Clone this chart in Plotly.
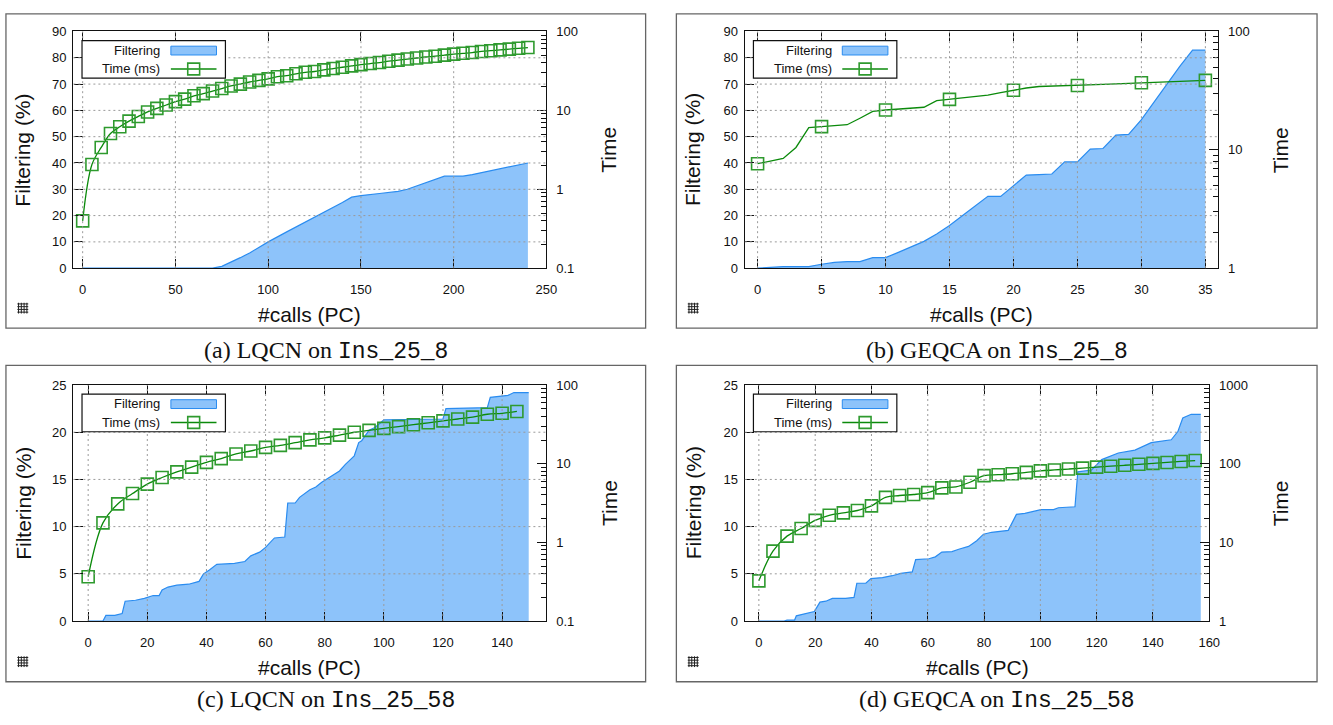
import plotly.graph_objects as go

W, H = 1333, 725

# ---------------- data ----------------
# (a) LQCN on Ins_25_8
a_calls_f = [0, 70, 75, 80, 85, 90, 95, 100, 110, 120, 130, 135, 140, 145, 150, 160, 170, 175,
             180, 185, 190, 195, 200, 205, 210, 220, 230, 240]
a_filter = [0, 0, 0.7, 2.2, 4.0, 5.8, 7.9, 10.0, 13.8, 17.5, 21.0, 23.0, 25.0, 27.0, 27.6, 28.4, 29.2, 30.0,
            31.3, 32.5, 33.8, 35.0, 35.0, 35.0, 35.6, 37.0, 38.5, 40.0]
a_calls_t = [0, 5, 10, 15, 20, 25, 30, 35, 40, 45, 50, 55, 60, 65, 70, 75, 80, 85, 90, 95, 100,
             105, 110, 115, 120, 125, 130, 135, 140, 145, 150, 155, 160, 165, 170, 175, 180, 185,
             190, 195, 200, 205, 210, 215, 220, 225, 230, 235, 240]
a_time = [0.398, 2.06, 3.39, 5.09, 6.21, 7.30, 8.38, 9.55, 10.6, 11.7, 12.9, 13.9, 15.3, 16.3, 17.6,
          18.9, 20.4, 21.5, 22.9, 24.0, 25.1, 26.7, 27.5, 29.1, 30.4, 31.1, 32.6, 33.9, 35.2, 36.6,
          38.0, 39.2, 40.4, 42.0, 43.3, 44.7, 46.1, 47.5, 48.6, 50.1, 51.7, 52.9, 54.1, 55.8, 57.1,
          58.4, 59.8, 61.2, 62.6]

# (b) GEQCA on Ins_25_8
b_calls = [0, 1, 2, 3, 4, 5, 6, 7, 8, 9, 10, 11, 12, 13, 14, 15, 16, 17, 18, 19, 20, 21, 22, 23,
           24, 25, 26, 27, 28, 29, 30, 31, 32, 33, 34, 35]
b_filter = [0, 0.3, 0.6, 0.6, 0.6, 1.5, 2.2, 2.5, 2.5, 4.0, 4.0, 6.0, 8.0, 10.2, 13.0, 16.2, 19.9,
            23.6, 27.3, 27.3, 31.3, 35.4, 35.6, 35.8, 40.4, 40.4, 45.3, 45.5, 50.6, 50.9, 56.5,
            63.3, 70.1, 76.7, 82.9, 82.9]
b_time = [7.63, 8.02, 8.45, 10.47, 15.4, 15.7, 16.0, 16.3, 18.5, 21.1, 21.7, 22.2, 22.7, 22.9,
          26.0, 26.7, 27.3, 28.0, 29.0, 30.4, 31.9, 33.3, 34.3, 34.5, 34.7, 35.0, 35.4, 35.7,
          36.1, 36.4, 36.9, 37.2, 37.6, 37.8, 38.2, 38.6]
b_mark_calls = [0, 5, 10, 15, 20, 25, 30, 35]

# (c) LQCN on Ins_25_58
c_calls_f = [0, 5, 6, 9, 11.5, 12.5, 16, 19, 22, 24, 25, 27, 30, 34, 37.5, 39, 41, 43.5, 49.5, 53,
             55, 58, 60, 63, 66.5, 67.5, 70, 71.5, 75, 77, 79, 81, 85, 87, 90, 91.5, 92.5, 95, 97,
             100, 120, 121, 135, 136, 142, 144, 149]
c_filter = [0, 0, 0.6, 0.6, 0.8, 2.1, 2.2, 2.4, 2.7, 2.7, 3.3, 3.6, 3.8, 3.9, 4.2, 5.0, 5.4, 6.0,
            6.1, 6.3, 6.9, 7.3, 7.8, 8.8, 8.9, 12.5, 12.5, 13.1, 13.9, 14.2, 14.7, 15.1, 15.9, 16.6,
            17.5, 18.9, 19.1, 20.2, 20.5, 21.3, 21.4, 22.5, 22.6, 23.7, 23.9, 24.2, 24.2]
c_calls_t = [0, 5, 10, 15, 20, 25, 30, 35, 40, 45, 50, 55, 60, 65, 70, 75, 80, 85, 90, 95, 100,
             105, 110, 115, 120, 125, 130, 135, 140, 145]
c_time = [0.366, 1.77, 3.08, 4.17, 5.50, 6.67, 7.87, 9.04, 10.4, 11.6, 13.3, 14.5, 16.1, 17.1, 18.5,
          20.1, 21.3, 23.1, 25.1, 26.5, 28.1, 29.6, 31.3, 33.1, 35.0, 37.0, 39.1, 42.5, 43.7, 46.1]

# (d) GEQCA on Ins_25_58
d_calls_f = [0, 9, 10, 12.7, 13.3, 15.6, 17.9, 19.7, 20.9, 21.7, 23.8, 26.1, 30.8, 33.8, 34.8, 38,
             39.8, 43.9, 47.4, 50.4, 54.5, 55.7, 60.4, 62.7, 65, 68.6, 71, 74.5, 77.4, 79.8, 82.7,
             88.6, 91.5, 94.5, 100.2, 104.7, 106.4, 112.3, 113.3, 118.2, 121.8, 127.7, 133.6,
             139.4, 146.5, 148.9, 150.6, 153.6, 157]
d_filter = [0, 0, 0.1, 0.1, 0.55, 0.7, 0.9, 1.0, 1.6, 2.0, 2.1, 2.4, 2.4, 2.5, 4.0, 4.0, 4.5, 4.6,
            4.8, 5.05, 5.2, 6.5, 6.6, 6.8, 7.3, 7.35, 7.6, 7.9, 8.5, 9.2, 9.4, 9.6, 11.3, 11.4, 11.8,
            11.8, 12.0, 12.1, 15.8, 16.0, 17.1, 17.8, 18.1, 18.9, 19.2, 20.1, 21.5, 21.9, 21.9]
d_calls_t = [0, 5, 10, 15, 20, 25, 30, 35, 40, 45, 50, 55, 60, 65, 70, 75, 80, 85, 90, 95, 100,
             105, 110, 115, 120, 125, 130, 135, 140, 145, 150, 155]
d_time = [3.24, 7.73, 12.0, 15.0, 19.0, 22.1, 23.7, 25.4, 29.1, 37.3, 39.4, 40.6, 42.9, 49.2, 50.6,
          58.1, 70.5, 72.4, 74.5, 77.6, 80.9, 83.2, 85.5, 87.9, 90.4, 92.9, 95.5, 98.2, 100.9, 103.7,
          106.7, 109.6]

# tick values / labels
a_xticks = [0, 50, 100, 150, 200, 250]
b_xticks = [0, 5, 10, 15, 20, 25, 30, 35]
c_xticks = [0, 20, 40, 60, 80, 100, 120, 140]
d_xticks = [0, 20, 40, 60, 80, 100, 120, 140, 160]
top_yticks = [0, 10, 20, 30, 40, 50, 60, 70, 80, 90]
bot_yticks = [0, 5, 10, 15, 20, 25]
a_time_ticks = [0.1, 1, 10, 100]
b_time_ticks = [1, 10, 100]
c_time_ticks = [0.1, 1, 10, 100]
d_time_ticks = [1, 10, 100, 1000]
a_time_labels = ["0.1", "1", "10", "100"]
b_time_labels = ["1", "10", "100"]
c_time_labels = ["0.1", "1", "10", "100"]
d_time_labels = ["1", "10", "100", "1000"]

captions = ["(a) LQCN on ", "(b) GEQCA on ", "(c) LQCN on ", "(d) GEQCA on "]
instances = ["Ins_25_8", "Ins_25_8", "Ins_25_58", "Ins_25_58"]
legend_names = ["Filtering", "Time (ms)"]

# ---------------- styles ----------------
FONT = "Liberation Sans, Arial, sans-serif"
FILL = "#8DC3FA"
EDGE = "#2A8CF0"
GREEN = "#0B8A0B"
MARK = "#2E9A2E"
GRIDC = "#9a9a9a"


def X(px):
    return px / W


def Y(py):
    return 1 - py / H


panels = [
    dict(plot=(74, 551, 25, 266.7), frame=(6, 651, 7, 328), xr=[-5, 250], xt=a_xticks,
         yr=[0, 90], yt=top_yticks, y2r=[-1, 2], y2t=a_time_ticks, y2l=a_time_labels,
         fx=a_calls_f, fy=a_filter, tx=a_calls_t, ty=a_time, mx=None, my=None, shape="spline",
         cap_y=351),
    dict(plot=(751, 1228.3, 25, 266.7), frame=(682, 1328, 7, 328), xr=[-1, 36], xt=b_xticks,
         yr=[0, 90], yt=top_yticks, y2r=[0, 2], y2t=b_time_ticks, y2l=b_time_labels,
         fx=b_calls, fy=b_filter, tx=b_calls, ty=b_time, mx=b_mark_calls,
         my=[b_time[b_calls.index(c)] for c in b_mark_calls], shape="linear", cap_y=351),
    dict(plot=(74, 551, 386, 627), frame=(6, 651, 366, 689), xr=[-5, 155], xt=c_xticks,
         yr=[0, 25], yt=bot_yticks, y2r=[-1, 2], y2t=c_time_ticks, y2l=c_time_labels,
         fx=c_calls_f, fy=c_filter, tx=c_calls_t, ty=c_time, mx=None, my=None, shape="spline",
         cap_y=708),
    dict(plot=(751, 1219.3, 386, 627), frame=(682, 1328, 366, 689), xr=[-5, 160], xt=d_xticks,
         yr=[0, 25], yt=bot_yticks, y2r=[0, 3], y2t=d_time_ticks, y2l=d_time_labels,
         fx=d_calls_f, fy=d_filter, tx=d_calls_t, ty=d_time, mx=None, my=None, shape="spline",
         cap_y=708),
]

fig = go.Figure()
layout = dict(width=W, height=H, margin=dict(l=0, r=0, t=0, b=0), paper_bgcolor="white",
              plot_bgcolor="rgba(0,0,0,0)", showlegend=False, font=dict(family=FONT, color="#111"))
shapes = []
annotations = []

for i, p in enumerate(panels, start=1):
    xid = "x" if i == 1 else f"x{i}"
    yl = "y" if i == 1 else f"y{i}"
    yr_ = f"y{i + 4}"
    xkey = "xaxis" if i == 1 else f"xaxis{i}"
    ylkey = "yaxis" if i == 1 else f"yaxis{i}"
    yrkey = f"yaxis{i + 4}"
    L, R, T, B = p["plot"]
    FL, FR, FT, FB = p["frame"]

    # filtering area
    fig.add_trace(go.Scatter(x=p["fx"], y=p["fy"], xaxis=xid, yaxis=yl, mode="lines",
                             fill="tozeroy", fillcolor=FILL, line=dict(color=EDGE, width=1.2),
                             hoverinfo="skip"))
    # time line
    if p["mx"] is None:
        fig.add_trace(go.Scatter(x=p["tx"], y=p["ty"], xaxis=xid, yaxis=yr_, mode="lines+markers",
                                 line=dict(color=GREEN, width=1.3, shape=p["shape"]),
                                 marker=dict(symbol="square-open", size=12, color=MARK,
                                             line=dict(width=1.6)),
                                 hoverinfo="skip"))
    else:
        fig.add_trace(go.Scatter(x=p["tx"], y=p["ty"], xaxis=xid, yaxis=yr_, mode="lines",
                                 line=dict(color=GREEN, width=1.3, shape=p["shape"]),
                                 hoverinfo="skip"))
        fig.add_trace(go.Scatter(x=p["mx"], y=p["my"], xaxis=xid, yaxis=yr_, mode="markers",
                                 marker=dict(symbol="square-open", size=12, color=MARK,
                                             line=dict(width=1.6)),
                                 hoverinfo="skip"))

    tickfont = dict(family=FONT, size=13, color="#111")
    layout[xkey] = dict(domain=[X(L), X(R)], range=p["xr"], anchor=yl, tickvals=p["xt"],
                        ticks="inside", ticklen=9, tickwidth=1.2, tickcolor="#111", showline=True,
                        linecolor="#111", linewidth=1.4, mirror="ticks", showgrid=False,
                        zeroline=False, tickfont=tickfont, ticklabelstandoff=9)
    layout[ylkey] = dict(domain=[Y(B), Y(T)], range=p["yr"], anchor=xid, tickvals=p["yt"],
                         ticks="inside", ticklen=9, tickwidth=1.2, tickcolor="#111", showline=True,
                         linecolor="#111", linewidth=1.4, mirror=False, showgrid=False,
                         zeroline=False, tickfont=tickfont, ticklabelstandoff=3)
    lo, hi = p["y2r"]
    minor_vals = [k * 10.0 ** d for d in range(lo, hi) for k in range(2, 10)]
    layout[yrkey] = dict(overlaying=yl, side="right", anchor=xid, type="log", range=p["y2r"],
                         tickvals=p["y2t"], ticktext=p["y2l"], ticks="inside", ticklen=9,
                         tickwidth=1.2, tickcolor="#111", showline=True, linecolor="#111",
                         linewidth=1.4, showgrid=False, zeroline=False, tickfont=tickfont,
                         ticklabelstandoff=6,
                         minor=dict(tickvals=minor_vals, ticks="inside", ticklen=5,
                                    tickcolor="#111", tickwidth=1, showgrid=False))

    # dotted grid drawn on top of the fill
    for v in p["xt"]:
        if p["xr"][0] < v < p["xr"][1]:
            shapes.append(dict(type="line", xref=xid, yref=f"{yl} domain", x0=v, x1=v, y0=0, y1=1,
                               line=dict(color=GRIDC, width=1, dash="2px,3px"), layer="above"))
    for v in p["yt"]:
        if p["yr"][0] < v < p["yr"][1]:
            shapes.append(dict(type="line", xref=f"{xid} domain", yref=yl, x0=0, x1=1, y0=v, y1=v,
                               line=dict(color=GRIDC, width=1, dash="2px,3px"), layer="above"))

    # frame
    shapes.append(dict(type="rect", xref="paper", yref="paper", x0=X(FL), x1=X(FR), y0=Y(FB),
                       y1=Y(FT), line=dict(color="#666", width=1.3), layer="below"))

    # legend (gnuplot style: text then sample)
    lx, ly = L + 8.7, T + 9.3
    shapes.append(dict(type="rect", xref="paper", yref="paper", x0=X(lx), x1=X(lx + 144.6),
                       y0=Y(ly + 38.4), y1=Y(ly), line=dict(color="#111", width=1.2),
                       fillcolor="white", layer="above"))
    shapes.append(dict(type="rect", xref="paper", yref="paper", x0=X(lx + 89.6), x1=X(lx + 135.6),
                       y0=Y(ly + 14.7), y1=Y(ly + 5.7), line=dict(color=EDGE, width=1),
                       fillcolor=FILL, layer="above"))
    shapes.append(dict(type="line", xref="paper", yref="paper", x0=X(lx + 89.6), x1=X(lx + 135.6),
                       y0=Y(ly + 29), y1=Y(ly + 29), line=dict(color=GREEN, width=1.3),
                       layer="above"))
    shapes.append(dict(type="rect", xref="paper", yref="paper", x0=X(lx + 106.6), x1=X(lx + 118.6),
                       y0=Y(ly + 35), y1=Y(ly + 23), line=dict(color=MARK, width=1.6),
                       layer="above"))
    for k, name in enumerate(legend_names):
        annotations.append(dict(text=name, xref="paper", yref="paper", x=X(lx + 81),
                                y=Y(ly + 10 + 19 * k), xanchor="right", yanchor="middle",
                                showarrow=False, font=dict(family=FONT, size=13, color="#111")))

    # gnuplot grid-toggle icon
    ix, iy = FL + 11.5, FB - 26
    for off in [1.2, 4.0, 6.8, 9.6]:
        shapes.append(dict(type="line", xref="paper", yref="paper", x0=X(ix + off), x1=X(ix + off),
                           y0=Y(iy), y1=Y(iy + 11), line=dict(color="#222", width=1),
                           layer="above"))
        shapes.append(dict(type="line", xref="paper", yref="paper", x0=X(ix), x1=X(ix + 11),
                           y0=Y(iy + off), y1=Y(iy + off), line=dict(color="#222", width=1),
                           layer="above"))

    # axis titles
    annotations.append(dict(text="Filtering (%)", xref="paper", yref="paper", x=X(FL + 17),
                            y=Y((T + B) / 2), textangle=-90, showarrow=False, xanchor="center",
                            yanchor="middle", font=dict(family=FONT, size=21, color="#111")))
    annotations.append(dict(text="Time", xref="paper", yref="paper", x=X(FR - 37),
                            y=Y((T + B) / 2), textangle=-90, showarrow=False, xanchor="center",
                            yanchor="middle", font=dict(family=FONT, size=21, color="#111")))
    annotations.append(dict(text="#calls (PC)", xref="paper", yref="paper", x=X((L + R) / 2),
                            y=Y(B + 47.5), showarrow=False, xanchor="center", yanchor="middle",
                            font=dict(family=FONT, size=21, color="#111")))
    # caption
    annotations.append(dict(text=captions[i - 1] + "<span style=\"font-family:Liberation Mono;font-size:23px\">"
                            + instances[i - 1] + "</span>",
                            xref="paper", yref="paper", x=X((FL + FR) / 2), y=Y(p["cap_y"]),
                            showarrow=False, xanchor="center", yanchor="middle",
                            font=dict(family="Liberation Serif, Times New Roman, serif", size=24,
                                      color="#111")))

layout["shapes"] = shapes
layout["annotations"] = annotations
fig.update_layout(**layout)
fig.write_html("out.html", config={"displayModeBar": False},
               post_script="document.body.style.margin='0px';document.body.style.overflow='hidden';")
